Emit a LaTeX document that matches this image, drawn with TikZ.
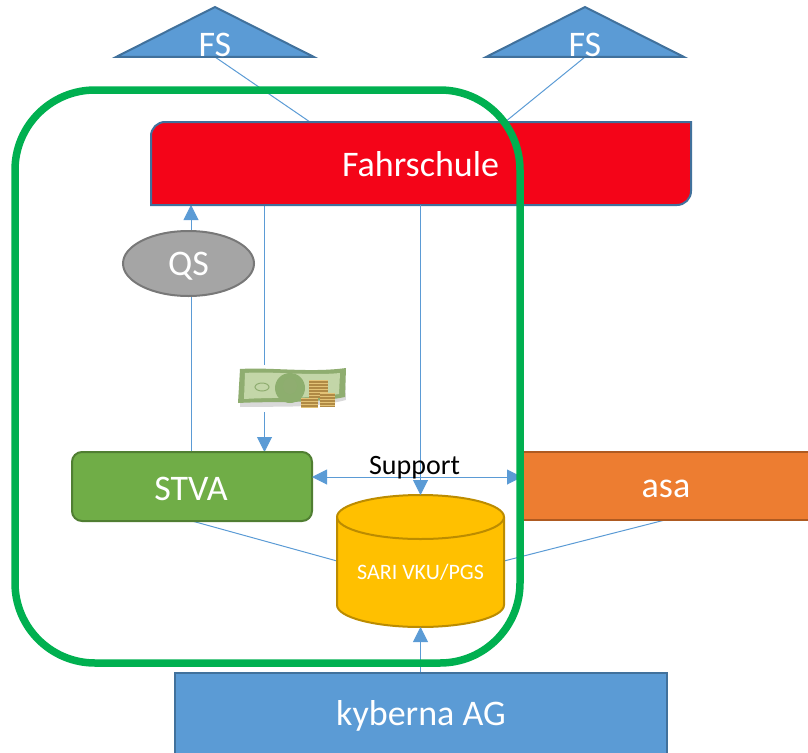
\documentclass[tikz,border=0pt]{standalone}
\usepackage{fontspec}
\setmainfont{Carlito}
\usetikzlibrary{arrows.meta}
\definecolor{cblue}{HTML}{5B9BD5}
\definecolor{cblued}{HTML}{41719C}
\definecolor{cred}{HTML}{F40418}
\definecolor{cgreen}{HTML}{70AD47}
\definecolor{cgreend}{HTML}{507E32}
\definecolor{corange}{HTML}{ED7D31}
\definecolor{coranged}{HTML}{AE5A21}
\definecolor{cyel}{HTML}{FFC000}
\definecolor{cyeld}{HTML}{BC8C00}
\definecolor{cring}{HTML}{00B050}
\definecolor{cgrey}{HTML}{A5A5A5}
\definecolor{cgreyd}{HTML}{787878}
\definecolor{billedge}{HTML}{8FAD70}
\definecolor{billface}{HTML}{C3D6A8}
\definecolor{billdark}{HTML}{8DAE6E}
\definecolor{coinlight}{HTML}{E3C377}
\definecolor{coindark}{HTML}{B08A45}
\tikzset{
 every node/.style={inner sep=0pt,outer sep=0pt},
 big/.style={font=\fontsize{36}{40}\selectfont,text=white},
 boxline/.style={line width=2pt},
 link/.style={draw=cblue,line width=1pt},
 tip/.style={link,-{Triangle[length=15pt,width=15pt,fill=cblue]}},
 tiptwo/.style={link,{Triangle[length=15pt,width=15pt,fill=cblue]}-{Triangle[length=15pt,width=15pt,fill=cblue]}}
}
\newcommand{\coinstack}[5]{% x, top y, bottom y, half width, last stripe
 \fill[coindark] ({#1-#4},#2) rectangle ({#1+#4},#3);
 \foreach \k in {0,...,#5} {\fill[coinlight] ({#1-#4},{#2+3*\k}) rectangle ({#1+#4},{#2+3*\k+1.4});}
}
\begin{document}
\begin{tikzpicture}[x=1pt,y=-1pt]
\useasboundingbox (0,0) rectangle (808,752);
% anchors of the shapes
\node[minimum width=540pt,minimum height=83pt] (fahr) at (421,163.5) {};
\node[minimum width=198pt,minimum height=50pt] (fsa) at (215,32) {};
\node[minimum width=198pt,minimum height=50pt] (fsb) at (585,32) {};
\node[minimum width=131pt,minimum height=65pt] (qs) at (188.5,263.5) {};
\node[minimum width=240pt,minimum height=69pt] (stva) at (192,486.5) {};
\node[minimum width=286pt,minimum height=68pt] (asa) at (665,486) {};
\node[minimum width=167pt,minimum height=132pt] (sari) at (420.5,561) {};
\node[minimum width=492pt,minimum height=80pt] (kyb) at (421,713) {};
\coordinate (fsfoota) at (310,122);
\coordinate (fsfootb) at (505,122);
% connectors
\draw[link] (fsa.south) -- (fsfoota);
\draw[link] (fsb.south) -- (fsfootb);
\draw[link] (stva.south) -- (sari.west);
\draw[link] (asa.south) -- (sari.east);
\draw[link] (qs.south -| 191,0) -- (stva.north -| 191,0);
\draw[tip] (qs.north -| 191,0) -- (fahr.south -| 191,0);
\draw[tip] (fahr.south -| 264.5,0) -- (stva.north -| 264.5,0);
% Fahrschule
\draw[boxline,draw=cblued,fill=cred] (151,205) -- (151,136) arc[start angle=180,end angle=270,radius=14] -- (691,122) -- (691,191) arc[start angle=0,end angle=90,radius=14] -- cycle;
\node[big] at (420.5,164) {Fahrschule};
% FS triangles
\draw[boxline,draw=cblued,fill=cblue,line join=miter] (116,57) -- (215,7) -- (314,57) -- cycle;
\node[big] at (215,45) {FS};
\draw[boxline,draw=cblued,fill=cblue,line join=miter] (486,57) -- (585,7) -- (684,57) -- cycle;
\node[big] at (585,45) {FS};
% QS
\draw[boxline,draw=cgreyd,fill=cgrey] (qs.center) ellipse[x radius=65.5,y radius=32.5];
\node[big] at (188.5,266) {QS};
% STVA
\draw[boxline,draw=cgreend,fill=cgreen,rounded corners=10pt] (stva.north west) rectangle (stva.south east);
\node[big] at (191,489) {STVA};
% asa
\draw[boxline,draw=coranged,fill=corange] (asa.north east) -- (asa.north west) -- (asa.south west) -- (asa.south east);
\fill[corange] (523,453) rectangle (808,519);
\node[big] at (666,489) {asa};
% cylinder
\draw[boxline,draw=cyeld,fill=cyel] (337,517) -- (337,605) arc[start angle=180,end angle=0,x radius=83.5,y radius=22] -- (504,517) arc[start angle=0,end angle=-180,x radius=83.5,y radius=22] -- cycle;
\draw[boxline,draw=cyeld] (337,517) arc[start angle=180,end angle=0,x radius=83.5,y radius=22];
\node[font=\fontsize{22}{26}\selectfont,text=white] at (420.5,572) {SARI VKU/PGS};
% arrows that end on the cylinder
\draw[tip] (fahr.south -| 420.5,0) -- (sari.north -| 420.5,0);
\draw[tip] (kyb.north -| 420.5,0) -- (sari.south -| 420.5,0);
% kyberna
\draw[boxline,draw=cblued,fill=cblue] (175,755) -- (175,673) -- (667,673) -- (667,755);
\node[big] at (421,716) {kyberna AG};
% support
\draw[tiptwo] (stva.east |- 0,477) -- (asa.west |- 0,477);
\node[font=\fontsize{28}{32}\selectfont] at (414.5,468) {Support};
% banknote
\fill[white] (232,365) rectangle (352,412);
\fill[black!15] (241,375) .. controls (270,372) and (310,378) .. (345,373) -- (346,400) .. controls (310,409) and (275,406) .. (240,407) -- cycle;
\fill[billedge] (240,369) .. controls (270,367) and (310,373) .. (346,368) -- (345,397) .. controls (310,404) and (275,401) .. (238,403) -- cycle;
\fill[billface] (245,373) .. controls (270,371) and (310,376) .. (340,373) -- (339,394) .. controls (310,399) and (275,397) .. (244,399) -- cycle;
\fill[billdark] (290,388) ellipse[x radius=15,y radius=15];
\fill[billedge] (290,386) ellipse[x radius=7,y radius=8];
\draw[billedge,line width=1pt] (262,387) ellipse[x radius=7,y radius=4];
\coinstack{318}{380}{398}{9.5}{5}
\coinstack{327}{393}{407}{7.5}{4}
\coinstack{309}{398}{408}{8.5}{3}
% ring
\draw[cring,line width=7.5pt,rounded corners=80pt] (15,90) rectangle (520,663);
\end{tikzpicture}
\end{document}
